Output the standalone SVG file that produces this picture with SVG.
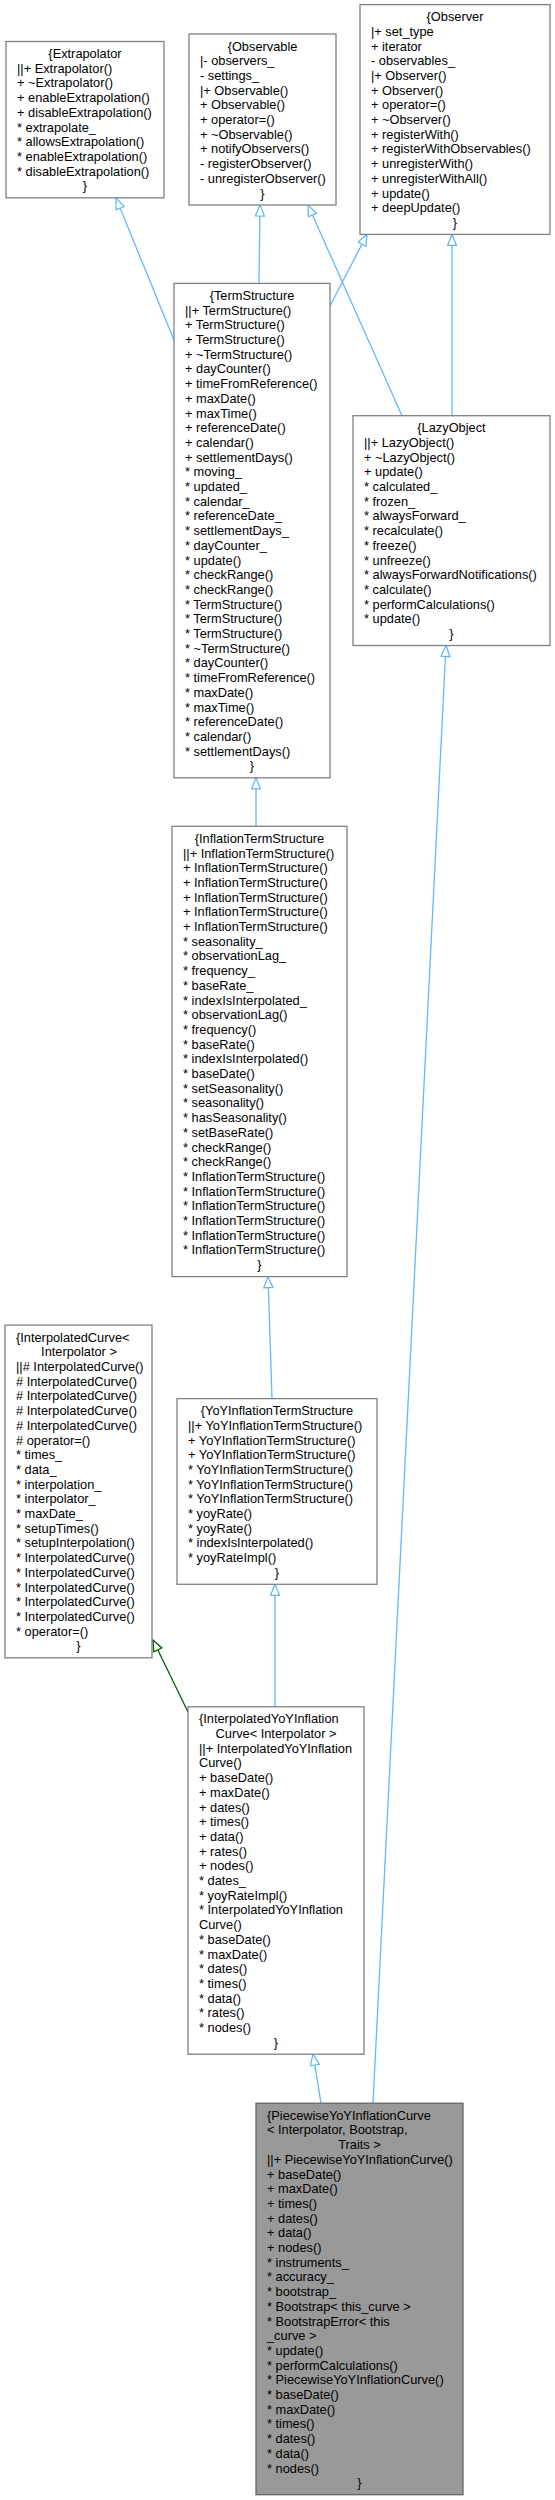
<svg xmlns="http://www.w3.org/2000/svg" width="555" height="2500" viewBox="0 0 555 2500">
<style>
.box{fill:#ffffff;stroke:#808080;stroke-width:1.3}
.cur{fill:#999999;stroke:#666666;stroke-width:1.3}
text{font-family:"Liberation Sans",Arial,sans-serif;font-size:12.8px;fill:#000000}
.c{text-anchor:middle}
.e{fill:none;stroke:#63B8FF;stroke-width:1.3}
.g{fill:none;stroke:#006400;stroke-width:1.3}
</style>
<defs>
<marker id="ab" markerUnits="userSpaceOnUse" markerWidth="14" markerHeight="12" refX="12" refY="5" orient="auto">
<path d="M1,0.5 L12,5 L1,9.5 Z" fill="#ffffff" stroke="#63B8FF" stroke-width="1.3"/>
</marker>
<marker id="ag" markerUnits="userSpaceOnUse" markerWidth="14" markerHeight="12" refX="12" refY="5" orient="auto">
<path d="M1,0.5 L12,5 L1,9.5 Z" fill="#ffffff" stroke="#006400" stroke-width="1.3"/>
</marker>
</defs>

<g id="connectors">
<path class="e" d="M174,340 L116,198" marker-end="url(#ab)"/>
<path class="e" d="M259,283.4 L260,205" marker-end="url(#ab)"/>
<path class="e" d="M330,306 L367,234.4" marker-end="url(#ab)"/>
<path class="e" d="M402,415.7 L308,205" marker-end="url(#ab)"/>
<path class="e" d="M452,415.7 L452,234.4" marker-end="url(#ab)"/>
<path class="e" d="M256,826.3 L256,777.8" marker-end="url(#ab)"/>
<path class="e" d="M272,1398.6 L268,1276.6" marker-end="url(#ab)"/>
<path class="e" d="M275,1706.8 L275,1584.3" marker-end="url(#ab)"/>
<path class="g" d="M188,1712 L153,1640" marker-end="url(#ag)"/>
<path class="e" d="M321,2103.2 L313,2054.2" marker-end="url(#ab)"/>
<path class="e" d="M373,2103.2 L446,645.5" marker-end="url(#ab)"/>
</g>

<g id="Extrapolator">
<rect class="box" x="6" y="41.5" width="158" height="156.3"/>
<text class="c" x="85" y="58">{Extrapolator</text>
<text x="17"><tspan x="17" y="72.7">||+ Extrapolator()</tspan><tspan x="17" y="87.4">+ ~Extrapolator()</tspan><tspan x="17" y="102.1">+ enableExtrapolation()</tspan><tspan x="17" y="116.8">+ disableExtrapolation()</tspan><tspan x="17" y="131.5">* extrapolate_</tspan><tspan x="17" y="146.2">* allowsExtrapolation()</tspan><tspan x="17" y="160.9">* enableExtrapolation()</tspan><tspan x="17" y="175.6">* disableExtrapolation()</tspan></text>
<text class="c" x="85" y="190.3">}</text>
</g>

<g id="Observable">
<rect class="box" x="189" y="34" width="147" height="171"/>
<text class="c" x="262.5" y="50.5">{Observable</text>
<text x="200"><tspan x="200" y="65.2">|- observers_</tspan><tspan x="200" y="79.9">- settings_</tspan><tspan x="200" y="94.6">|+ Observable()</tspan><tspan x="200" y="109.3">+ Observable()</tspan><tspan x="200" y="124">+ operator=()</tspan><tspan x="200" y="138.7">+ ~Observable()</tspan><tspan x="200" y="153.4">+ notifyObservers()</tspan><tspan x="200" y="168.1">- registerObserver()</tspan><tspan x="200" y="182.8">- unregisterObserver()</tspan></text>
<text class="c" x="262.5" y="197.5">}</text>
</g>

<g id="Observer">
<rect class="box" x="360" y="4.6" width="190" height="229.8"/>
<text class="c" x="455" y="21.1">{Observer</text>
<text x="371"><tspan x="371" y="35.8">|+ set_type</tspan><tspan x="371" y="50.5">+ iterator</tspan><tspan x="371" y="65.2">- observables_</tspan><tspan x="371" y="79.9">|+ Observer()</tspan><tspan x="371" y="94.6">+ Observer()</tspan><tspan x="371" y="109.3">+ operator=()</tspan><tspan x="371" y="124">+ ~Observer()</tspan><tspan x="371" y="138.7">+ registerWith()</tspan><tspan x="371" y="153.4">+ registerWithObservables()</tspan><tspan x="371" y="168.1">+ unregisterWith()</tspan><tspan x="371" y="182.8">+ unregisterWithAll()</tspan><tspan x="371" y="197.5">+ update()</tspan><tspan x="371" y="212.2">+ deepUpdate()</tspan></text>
<text class="c" x="455" y="226.9">}</text>
</g>

<g id="TermStructure">
<rect class="box" x="174" y="283.4" width="156" height="494.4"/>
<text class="c" x="252" y="299.9">{TermStructure</text>
<text x="185"><tspan x="185" y="314.6">||+ TermStructure()</tspan><tspan x="185" y="329.3">+ TermStructure()</tspan><tspan x="185" y="344">+ TermStructure()</tspan><tspan x="185" y="358.7">+ ~TermStructure()</tspan><tspan x="185" y="373.4">+ dayCounter()</tspan><tspan x="185" y="388.1">+ timeFromReference()</tspan><tspan x="185" y="402.8">+ maxDate()</tspan><tspan x="185" y="417.5">+ maxTime()</tspan><tspan x="185" y="432.2">+ referenceDate()</tspan><tspan x="185" y="446.9">+ calendar()</tspan><tspan x="185" y="461.6">+ settlementDays()</tspan><tspan x="185" y="476.3">* moving_</tspan><tspan x="185" y="491">* updated_</tspan><tspan x="185" y="505.7">* calendar_</tspan><tspan x="185" y="520.4">* referenceDate_</tspan><tspan x="185" y="535.1">* settlementDays_</tspan><tspan x="185" y="549.8">* dayCounter_</tspan><tspan x="185" y="564.5">* update()</tspan><tspan x="185" y="579.2">* checkRange()</tspan><tspan x="185" y="593.9">* checkRange()</tspan><tspan x="185" y="608.6">* TermStructure()</tspan><tspan x="185" y="623.3">* TermStructure()</tspan><tspan x="185" y="638">* TermStructure()</tspan><tspan x="185" y="652.7">* ~TermStructure()</tspan><tspan x="185" y="667.4">* dayCounter()</tspan><tspan x="185" y="682.1">* timeFromReference()</tspan><tspan x="185" y="696.8">* maxDate()</tspan><tspan x="185" y="711.5">* maxTime()</tspan><tspan x="185" y="726.2">* referenceDate()</tspan><tspan x="185" y="740.9">* calendar()</tspan><tspan x="185" y="755.6">* settlementDays()</tspan></text>
<text class="c" x="252" y="770.3">}</text>
</g>

<g id="LazyObject">
<rect class="box" x="353" y="415.7" width="197" height="229.8"/>
<text class="c" x="451.5" y="432.2">{LazyObject</text>
<text x="364"><tspan x="364" y="446.9">||+ LazyObject()</tspan><tspan x="364" y="461.6">+ ~LazyObject()</tspan><tspan x="364" y="476.3">+ update()</tspan><tspan x="364" y="491">* calculated_</tspan><tspan x="364" y="505.7">* frozen_</tspan><tspan x="364" y="520.4">* alwaysForward_</tspan><tspan x="364" y="535.1">* recalculate()</tspan><tspan x="364" y="549.8">* freeze()</tspan><tspan x="364" y="564.5">* unfreeze()</tspan><tspan x="364" y="579.2">* alwaysForwardNotifications()</tspan><tspan x="364" y="593.9">* calculate()</tspan><tspan x="364" y="608.6">* performCalculations()</tspan><tspan x="364" y="623.3">* update()</tspan></text>
<text class="c" x="451.5" y="638">}</text>
</g>

<g id="InflationTermStructure">
<rect class="box" x="172" y="826.3" width="175" height="450.3"/>
<text class="c" x="259.5" y="842.8">{InflationTermStructure</text>
<text x="183"><tspan x="183" y="857.5">||+ InflationTermStructure()</tspan><tspan x="183" y="872.2">+ InflationTermStructure()</tspan><tspan x="183" y="886.9">+ InflationTermStructure()</tspan><tspan x="183" y="901.6">+ InflationTermStructure()</tspan><tspan x="183" y="916.3">+ InflationTermStructure()</tspan><tspan x="183" y="931">+ InflationTermStructure()</tspan><tspan x="183" y="945.7">* seasonality_</tspan><tspan x="183" y="960.4">* observationLag_</tspan><tspan x="183" y="975.1">* frequency_</tspan><tspan x="183" y="989.8">* baseRate_</tspan><tspan x="183" y="1004.5">* indexIsInterpolated_</tspan><tspan x="183" y="1019.2">* observationLag()</tspan><tspan x="183" y="1033.9">* frequency()</tspan><tspan x="183" y="1048.6">* baseRate()</tspan><tspan x="183" y="1063.3">* indexIsInterpolated()</tspan><tspan x="183" y="1078">* baseDate()</tspan><tspan x="183" y="1092.7">* setSeasonality()</tspan><tspan x="183" y="1107.4">* seasonality()</tspan><tspan x="183" y="1122.1">* hasSeasonality()</tspan><tspan x="183" y="1136.8">* setBaseRate()</tspan><tspan x="183" y="1151.5">* checkRange()</tspan><tspan x="183" y="1166.2">* checkRange()</tspan><tspan x="183" y="1180.9">* InflationTermStructure()</tspan><tspan x="183" y="1195.6">* InflationTermStructure()</tspan><tspan x="183" y="1210.3">* InflationTermStructure()</tspan><tspan x="183" y="1225">* InflationTermStructure()</tspan><tspan x="183" y="1239.7">* InflationTermStructure()</tspan><tspan x="183" y="1254.4">* InflationTermStructure()</tspan></text>
<text class="c" x="259.5" y="1269.1">}</text>
</g>

<g id="InterpolatedCurve">
<rect class="box" x="5" y="1325.1" width="147" height="332.7"/>
<text x="16" y="1341.6">{InterpolatedCurve&lt;</text>
<text class="c" x="79" y="1356.3">Interpolator &gt;</text>
<text x="16"><tspan x="16" y="1371">||# InterpolatedCurve()</tspan><tspan x="16" y="1385.7"># InterpolatedCurve()</tspan><tspan x="16" y="1400.4"># InterpolatedCurve()</tspan><tspan x="16" y="1415.1"># InterpolatedCurve()</tspan><tspan x="16" y="1429.8"># InterpolatedCurve()</tspan><tspan x="16" y="1444.5"># operator=()</tspan><tspan x="16" y="1459.2">* times_</tspan><tspan x="16" y="1473.9">* data_</tspan><tspan x="16" y="1488.6">* interpolation_</tspan><tspan x="16" y="1503.3">* interpolator_</tspan><tspan x="16" y="1518">* maxDate_</tspan><tspan x="16" y="1532.7">* setupTimes()</tspan><tspan x="16" y="1547.4">* setupInterpolation()</tspan><tspan x="16" y="1562.1">* InterpolatedCurve()</tspan><tspan x="16" y="1576.8">* InterpolatedCurve()</tspan><tspan x="16" y="1591.5">* InterpolatedCurve()</tspan><tspan x="16" y="1606.2">* InterpolatedCurve()</tspan><tspan x="16" y="1620.9">* InterpolatedCurve()</tspan><tspan x="16" y="1635.6">* operator=()</tspan></text>
<text class="c" x="78.5" y="1650.3">}</text>
</g>

<g id="YoYInflationTermStructure">
<rect class="box" x="177" y="1398.6" width="200" height="185.7"/>
<text class="c" x="277" y="1415.1">{YoYInflationTermStructure</text>
<text x="188"><tspan x="188" y="1429.8">||+ YoYInflationTermStructure()</tspan><tspan x="188" y="1444.5">+ YoYInflationTermStructure()</tspan><tspan x="188" y="1459.2">+ YoYInflationTermStructure()</tspan><tspan x="188" y="1473.9">* YoYInflationTermStructure()</tspan><tspan x="188" y="1488.6">* YoYInflationTermStructure()</tspan><tspan x="188" y="1503.3">* YoYInflationTermStructure()</tspan><tspan x="188" y="1518">* yoyRate()</tspan><tspan x="188" y="1532.7">* yoyRate()</tspan><tspan x="188" y="1547.4">* indexIsInterpolated()</tspan><tspan x="188" y="1562.1">* yoyRateImpl()</tspan></text>
<text class="c" x="277" y="1576.8">}</text>
</g>

<g id="InterpolatedYoYInflationCurve">
<rect class="box" x="188" y="1706.8" width="176" height="347.4"/>
<text x="199" y="1723.3">{InterpolatedYoYInflation</text>
<text class="c" x="276" y="1738">Curve&lt; Interpolator &gt;</text>
<text x="199"><tspan x="199" y="1752.7">||+ InterpolatedYoYInflation</tspan><tspan x="199" y="1767.4">Curve()</tspan><tspan x="199" y="1782.1">+ baseDate()</tspan><tspan x="199" y="1796.8">+ maxDate()</tspan><tspan x="199" y="1811.5">+ dates()</tspan><tspan x="199" y="1826.2">+ times()</tspan><tspan x="199" y="1840.9">+ data()</tspan><tspan x="199" y="1855.6">+ rates()</tspan><tspan x="199" y="1870.3">+ nodes()</tspan><tspan x="199" y="1885">* dates_</tspan><tspan x="199" y="1899.7">* yoyRateImpl()</tspan><tspan x="199" y="1914.4">* InterpolatedYoYInflation</tspan><tspan x="199" y="1929.1">Curve()</tspan><tspan x="199" y="1943.8">* baseDate()</tspan><tspan x="199" y="1958.5">* maxDate()</tspan><tspan x="199" y="1973.2">* dates()</tspan><tspan x="199" y="1987.9">* times()</tspan><tspan x="199" y="2002.6">* data()</tspan><tspan x="199" y="2017.3">* rates()</tspan><tspan x="199" y="2032">* nodes()</tspan></text>
<text class="c" x="276" y="2046.7">}</text>
</g>

<g id="PiecewiseYoYInflationCurve">
<rect class="cur" x="256" y="2103.2" width="207" height="391.5"/>
<text x="267" y="2119.7">{PiecewiseYoYInflationCurve</text>
<text x="267" y="2134.4">&lt; Interpolator, Bootstrap,</text>
<text class="c" x="359.5" y="2149.1">Traits &gt;</text>
<text x="267"><tspan x="267" y="2163.8">||+ PiecewiseYoYInflationCurve()</tspan><tspan x="267" y="2178.5">+ baseDate()</tspan><tspan x="267" y="2193.2">+ maxDate()</tspan><tspan x="267" y="2207.9">+ times()</tspan><tspan x="267" y="2222.6">+ dates()</tspan><tspan x="267" y="2237.3">+ data()</tspan><tspan x="267" y="2252">+ nodes()</tspan><tspan x="267" y="2266.7">* instruments_</tspan><tspan x="267" y="2281.4">* accuracy_</tspan><tspan x="267" y="2296.1">* bootstrap_</tspan><tspan x="267" y="2310.8">* Bootstrap&lt; this_curve &gt;</tspan><tspan x="267" y="2325.5">* BootstrapError&lt; this</tspan><tspan x="267" y="2340.2">_curve &gt;</tspan><tspan x="267" y="2354.9">* update()</tspan><tspan x="267" y="2369.6">* performCalculations()</tspan><tspan x="267" y="2384.3">* PiecewiseYoYInflationCurve()</tspan><tspan x="267" y="2399">* baseDate()</tspan><tspan x="267" y="2413.7">* maxDate()</tspan><tspan x="267" y="2428.4">* times()</tspan><tspan x="267" y="2443.1">* dates()</tspan><tspan x="267" y="2457.8">* data()</tspan><tspan x="267" y="2472.5">* nodes()</tspan></text>
<text class="c" x="359.5" y="2487.2">}</text>
</g>
</svg>
